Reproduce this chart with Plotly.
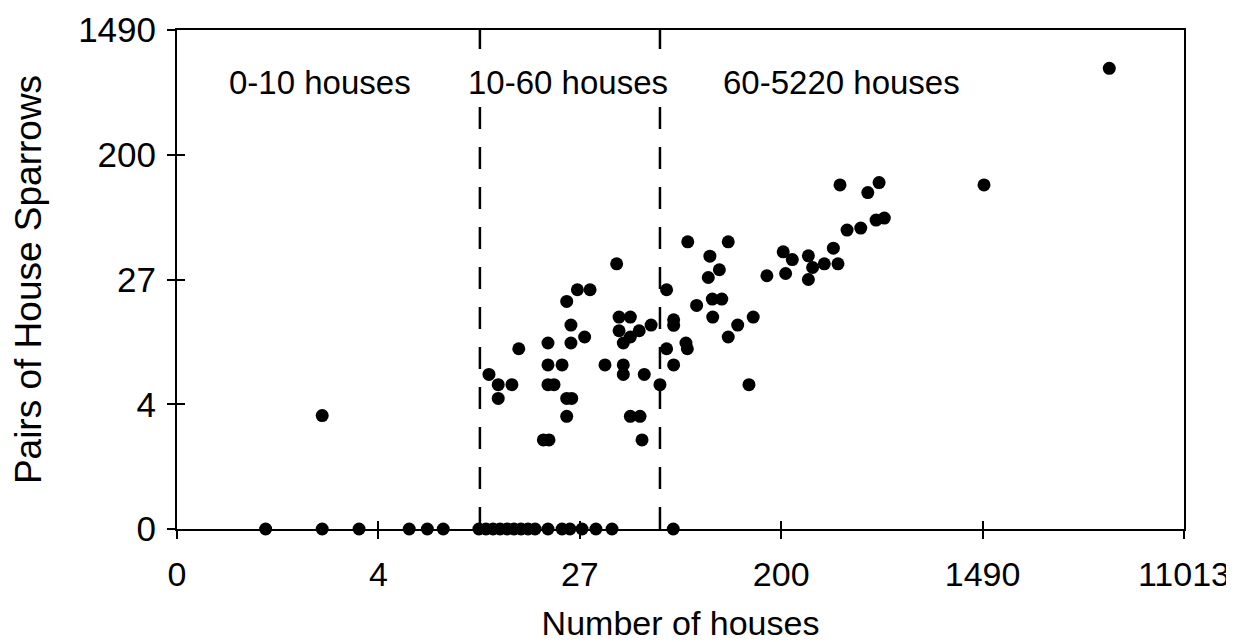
import plotly.graph_objects as go

# Axis positions are in the chart's log-scaled units; labels give the original values.
x_tick_vals = [0, 1, 2, 3, 4, 5]
x_tick_labels = ["0", "4", "27", "200", "1490", "11013"]
y_tick_vals = [0, 1, 2, 3, 4]
y_tick_labels = ["0", "4", "27", "200", "1490"]

# Sites with no sparrow pairs (log-scaled number of houses)
zero_houses_log = [0.440, 0.721, 0.904, 1.153, 1.243, 1.322, 1.499, 1.534, 1.569,
                   1.604, 1.639, 1.673, 1.708, 1.743, 1.778, 1.842, 1.912, 1.951,
                   2.011, 2.080, 2.160, 2.464]
zero_pairs_log = [0.0] * len(zero_houses_log)

# Sites with sparrows: log-scaled number of houses / pairs
houses_log = [0.721, 2.183, 1.988, 2.051, 1.935, 2.195, 2.251, 1.956, 2.431, 2.195,
              2.295, 2.354, 2.251, 2.216, 2.024, 1.956, 1.842, 1.697, 2.466, 2.466,
              2.431, 2.527, 2.534, 2.125, 2.216, 2.216, 2.320, 2.398, 2.466, 1.842,
              1.912, 1.549, 1.595, 1.663, 1.595, 1.842, 1.872, 1.935, 1.960, 1.935,
              2.251, 2.299, 1.819, 1.847, 2.309,
              3.292, 3.486, 3.430, 3.512, 3.471, 3.327, 3.395, 3.259, 3.282, 3.214,
              3.156, 3.135, 3.135, 3.010, 3.055, 3.022, 2.929, 2.536, 2.737, 2.646,
              2.693, 2.638, 2.658, 2.705, 2.580, 2.660, 2.861, 2.784, 2.737, 2.840,
              4.629, 4.007]
pairs_log = [0.909, 2.126, 1.918, 1.918, 1.824, 1.699, 1.699, 1.635, 1.918, 1.589,
             1.589, 1.635, 1.539, 1.491, 1.539, 1.491, 1.491, 1.445, 1.677, 1.633,
             1.445, 1.491, 1.445, 1.315, 1.315, 1.239, 1.239, 1.157, 1.315, 1.315,
             1.315, 1.239, 1.157, 1.157, 1.047, 1.157, 1.157, 1.047, 1.047, 0.903,
             0.903, 0.903, 0.714, 0.714, 0.714,
             2.758, 2.777, 2.697, 2.492, 2.476, 2.396, 2.412, 2.251, 2.126, 2.126,
             2.096, 2.190, 2.000, 2.222, 2.160, 2.048, 2.030, 2.302, 2.302, 2.187,
             2.078, 2.016, 1.843, 1.843, 1.792, 1.699, 1.699, 1.635, 1.539, 1.157,
             3.693, 2.758]

# Boundaries between size classes (10 and 60 houses), log-scaled
class_boundaries_log = [1.504, 2.398]
class_labels = ["0-10 houses", "10-60 houses", "60-5220 houses"]

FONT = "Arial, Liberation Sans, Helvetica, sans-serif"

fig = go.Figure()
fig.add_trace(go.Scatter(
    x=zero_houses_log + houses_log,
    y=zero_pairs_log + pairs_log,
    mode="markers",
    marker=dict(color="black", size=13, line=dict(width=0)),
    cliponaxis=False,
    showlegend=False,
    hoverinfo="skip",
))
# empty trace on overlay axes (used to draw the inner half of the crossing ticks)
fig.add_trace(go.Scatter(x=[None], y=[None], xaxis="x2", yaxis="y2",
                         mode="markers", showlegend=False, hoverinfo="skip"))

for b in class_boundaries_log:
    fig.add_shape(type="line", xref="x", yref="y", x0=b, x1=b, y0=0, y1=4,
                  line=dict(color="black", width=2.5, dash="22px,18px"), layer="below")

label_x = [0.71, 1.94, 3.30]
for lx, txt in zip(label_x, class_labels):
    fig.add_annotation(x=lx, y=3.58, xref="x", yref="y", text=txt, showarrow=False,
                       font=dict(family=FONT, size=33, color="black"),
                       bgcolor="white", borderpad=0)

axis_common = dict(showgrid=False, zeroline=False, linecolor="black", linewidth=2,
                   tickcolor="black", tickwidth=2, ticklen=8, automargin=False)

fig.update_layout(
    width=1234, height=642,
    margin=dict(l=169, r=58, t=22, b=121),
    paper_bgcolor="white", plot_bgcolor="white",
    font=dict(family=FONT, color="black"),
    xaxis=dict(range=[0, 5], tickmode="array", tickvals=x_tick_vals, ticktext=x_tick_labels,
               ticks="outside", showline=True, mirror=True,
               tickfont=dict(size=34), ticklabelstandoff=6,
               title=dict(text="Number of houses", font=dict(size=34), standoff=19),
               **axis_common),
    yaxis=dict(range=[0, 4], tickmode="array", tickvals=y_tick_vals, ticktext=y_tick_labels,
               ticks="outside", showline=True, mirror=True,
               tickfont=dict(size=35), ticklabelstandoff=4,
               title=dict(text="Pairs of House Sparrows", font=dict(size=37), standoff=27),
               **axis_common),
    xaxis2=dict(range=[0, 5], overlaying="x", anchor="y2", side="bottom",
                tickmode="array", tickvals=x_tick_vals, ticks="inside",
                showticklabels=False, showline=False, **axis_common),
    yaxis2=dict(range=[0, 4], overlaying="y", anchor="x2", side="left",
                tickmode="array", tickvals=y_tick_vals, ticks="inside",
                showticklabels=False, showline=False, **axis_common),
)

fig.write_html("out.html")
